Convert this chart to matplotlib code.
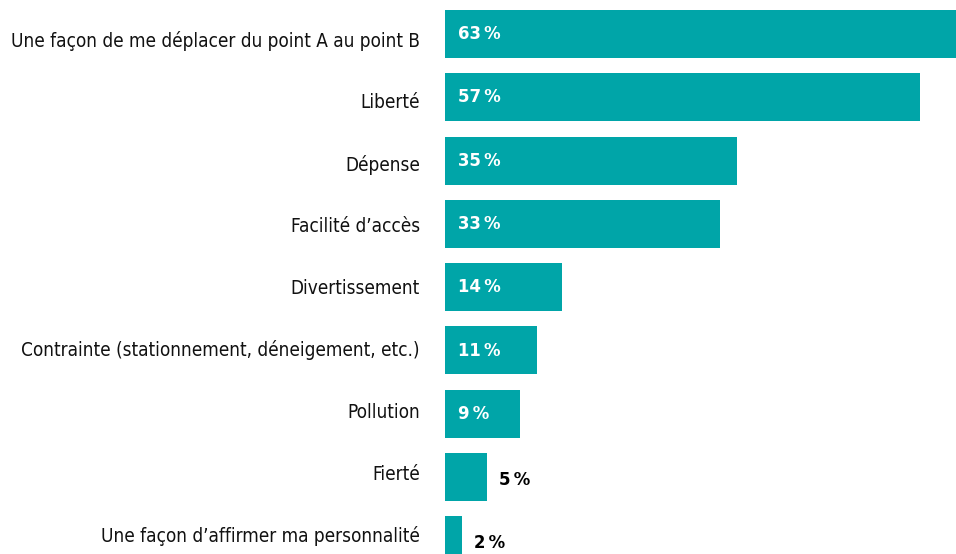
import matplotlib
matplotlib.use("Agg")
import matplotlib.pyplot as plt

categories = [
    "Une façon de me déplacer du point A au point B",
    "Liberté",
    "Dépense",
    "Facilité d’accès",
    "Divertissement",
    "Contrainte (stationnement, déneigement, etc.)",
    "Pollution",
    "Fierté",
    "Une façon d’affirmer ma personnalité",
]
values = [63, 57, 35, 33, 14, 11, 9, 5, 2]

plt.rcParams["font.family"] = ["DejaVu Sans"]
plt.rcParams["font.stretch"] = "condensed"

teal = "#00A5A8"
W, H = 956, 554
fig = plt.figure(figsize=(W / 100, H / 100), dpi=100)
# axes start at the bar baseline; 63 % runs a little past the right edge
ax = fig.add_axes([445 / W, 0, 525 / W, 1])
ax.set_xlim(0, 63)
pitch = 63.3
ax.set_ylim((H - 34) / pitch, -34 / pitch)

ys = range(len(values))
ax.barh(ys, values, height=48 / pitch, color=teal)

vals = []
for y, v in zip(ys, values):
    if v >= 8:
        t = ax.annotate(f"{v}\u2009%", (0, y), xytext=(9, 0), textcoords="offset points",
                        ha="left", va="center", color="white", fontsize=14, fontweight="bold")
    else:
        t = ax.annotate(f"{v}\u2009%", (v, y), xytext=(9, -2), textcoords="offset points",
                        ha="left", va="center", color="black", fontsize=14, fontweight="bold")
    vals.append(t)

# category labels sit a bit low at the top and drift up toward the bottom
labels = []
for y, c in zip(ys, categories):
    dy = -(7 - 1.4 * y)
    labels.append(ax.annotate(c, (0, y), xytext=(-25, dy), textcoords="offset pixels",
                              ha="right", va="center", fontsize=16, color="#111111"))
ax.set_yticks([])
ax.set_xticks([])
for s in ax.spines.values():
    s.set_visible(False)

# shrink the text until the longest label fits the left margin
r = fig.canvas.get_renderer()
wmax = max(t.get_window_extent(r).width for t in labels)
if wmax > 410:
    k = 410 / wmax
    for t in labels:
        t.set_fontsize(16 * k)
    w63 = vals[0].get_window_extent(r).width
    for t in vals:
        t.set_fontsize(14 * min(1, 43 / w63))

fig.savefig("out.png", dpi=100)
